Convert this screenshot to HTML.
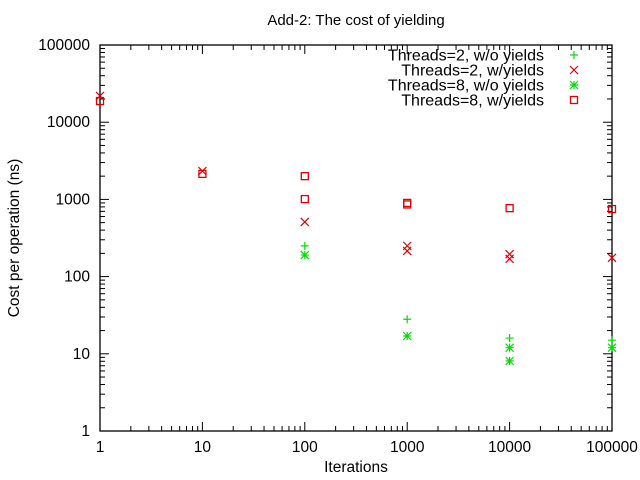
<!DOCTYPE html>
<html><head><meta charset="utf-8"><style>
html,body{margin:0;padding:0;background:#fff}
svg{display:block;font-family:"Liberation Sans",sans-serif}
</style></head><body>
<svg id="chart" width="640" height="480">
<text x="356" y="25" text-anchor="middle" font-size="15">Add-2: The cost of yielding</text>
<text x="356" y="472" text-anchor="middle" font-size="15.5">Iterations</text>
<text transform="translate(19,238) rotate(-90)" text-anchor="middle" font-size="15.5">Cost per operation (ns)</text>
<rect x="100" y="45" width="512" height="386" fill="none" stroke="#000" stroke-width="1.3"/>
<g id="ticks"></g>
<g id="legend"></g>
<g id="marks"></g>
</svg>
<script>
const xTicks = [1, 10, 100, 1000, 10000, 100000];
const yTicks = [1, 10, 100, 1000, 10000, 100000];
const xTickLabels = ["1", "10", "100", "1000", "10000", "100000"];
const yTickLabels = ["1", "10", "100", "1000", "10000", "100000"];
const seriesNames = ["Threads=2, w/o yields", "Threads=2, w/yields", "Threads=8, w/o yields", "Threads=8, w/yields"];
const t2NoYieldX = [100, 1000, 10000, 100000];
const t2NoYieldY = [250, 28, 16, 15];
const t2YieldX = [1, 10, 100, 1000, 1000, 10000, 10000, 100000];
const t2YieldY = [21900, 2330, 510, 250, 215, 195, 170, 175];
const t8NoYieldX = [100, 1000, 10000, 10000, 100000];
const t8NoYieldY = [190, 17, 12, 8.1, 12];
const t8YieldX = [1, 10, 100, 100, 1000, 1000, 10000, 100000];
const t8YieldY = [18800, 2140, 2000, 1010, 860, 900, 770, 750];

const X0 = 100, X1 = 612, Y0 = 431, Y1 = 45;
function xs(v){ return X0 + (Math.log10(v) - 0) / 5 * (X1 - X0); }
function ys(v){ return Y0 - (Math.log10(v) - 0) / 5 * (Y0 - Y1); }
const NS = "http://www.w3.org/2000/svg";
function mk(tag, attrs, parent){
  const e = document.createElementNS(NS, tag);
  for (const k in attrs) e.setAttribute(k, attrs[k]);
  parent.appendChild(e);
  return e;
}
const tg = document.getElementById('ticks');
function line(x1,y1,x2,y2,name){
  const l = mk('line',{x1:x1,y1:y1,x2:x2,y2:y2,stroke:'#000','stroke-width':1},tg);
  
  
}
for (let d = 0; d < 5; d++) {
  for (let m = 1; m < 10; m++) {
    const v = Math.pow(10, d) * m;
    const x = xs(v), len = m === 1 ? 9 : 5;
    line(x, Y0, x, Y0 - len, 'x-tick');
    line(x, Y1, x, Y1 + len, 'x-tick-top');
  }
}
for (let d = 0; d < 5; d++) {
  for (let m = 1; m < 10; m++) {
    const v = Math.pow(10, d) * m;
    const y = ys(v), len = m === 1 ? 9 : 5;
    line(X0, y, X0 + len, y, 'y-tick');
    line(X1, y, X1 - len, y, 'y-tick-right');
  }
}
line(xs(100000), Y0, xs(100000), Y0 - 9, 'x-tick');
line(X0, ys(100000), X0 + 9, ys(100000), 'y-tick');
xTicks.forEach((v, i) => {
  const t = mk('text',{x:xs(v),y:452,'text-anchor':'middle','font-size':'15.5'},tg);
  t.textContent = xTickLabels[i];
  
  
});
yTicks.forEach((v, i) => {
  const t = mk('text',{x:90,y:ys(v)+5,'text-anchor':'end','font-size':'15.5'},tg);
  t.textContent = yTickLabels[i];
  
  
});

const mg = document.getElementById('marks');
function marker(type, x, y, parent){
  const g = mk('g',{},parent);
  const s = 4;
  if (type === 'plus') {
    mk('path',{d:`M${x-s} ${y}H${x+s}M${x} ${y-s}V${y+s}`,stroke:'#00e000','stroke-width':1.2,fill:'none'},g);
  } else if (type === 'cross') {
    mk('path',{d:`M${x-s} ${y-s}L${x+s} ${y+s}M${x-s} ${y+s}L${x+s} ${y-s}`,stroke:'#e00000','stroke-width':1.2,fill:'none'},g);
  } else if (type === 'star') {
    mk('path',{d:`M${x-s} ${y}H${x+s}M${x} ${y-s}V${y+s}M${x-s} ${y-s}L${x+s} ${y+s}M${x-s} ${y+s}L${x+s} ${y-s}`,stroke:'#00e000','stroke-width':1.2,fill:'none'},g);
  } else {
    mk('rect',{x:x-3.5,y:y-3.5,width:7,height:7,stroke:'#e00000','stroke-width':1.3,fill:'none'},g);
  }
  return g;
}
const series = [
  ['plus', t2NoYieldX, t2NoYieldY, 'point-t2-no-yield'],
  ['cross', t2YieldX, t2YieldY, 'point-t2-yield'],
  ['star', t8NoYieldX, t8NoYieldY, 'point-t8-no-yield'],
  ['square', t8YieldX, t8YieldY, 'point-t8-yield']
];
series.forEach(([type, xsArr, ysArr, name]) => {
  xsArr.forEach((xv, i) => {
    const g = marker(type, xs(xv), ys(ysArr[i]), mg);
    
    
  });
});
const lg = document.getElementById('legend');
series.forEach(([type], i) => {
  const y = 55 + i * 15;
  const t = mk('text',{x:544,y:y+5.5,'text-anchor':'end','font-size':'16'},lg);
  t.textContent = seriesNames[i];
  
  
  const g = marker(type, 574, y, lg);
  
  
});
</script>
</body></html>
